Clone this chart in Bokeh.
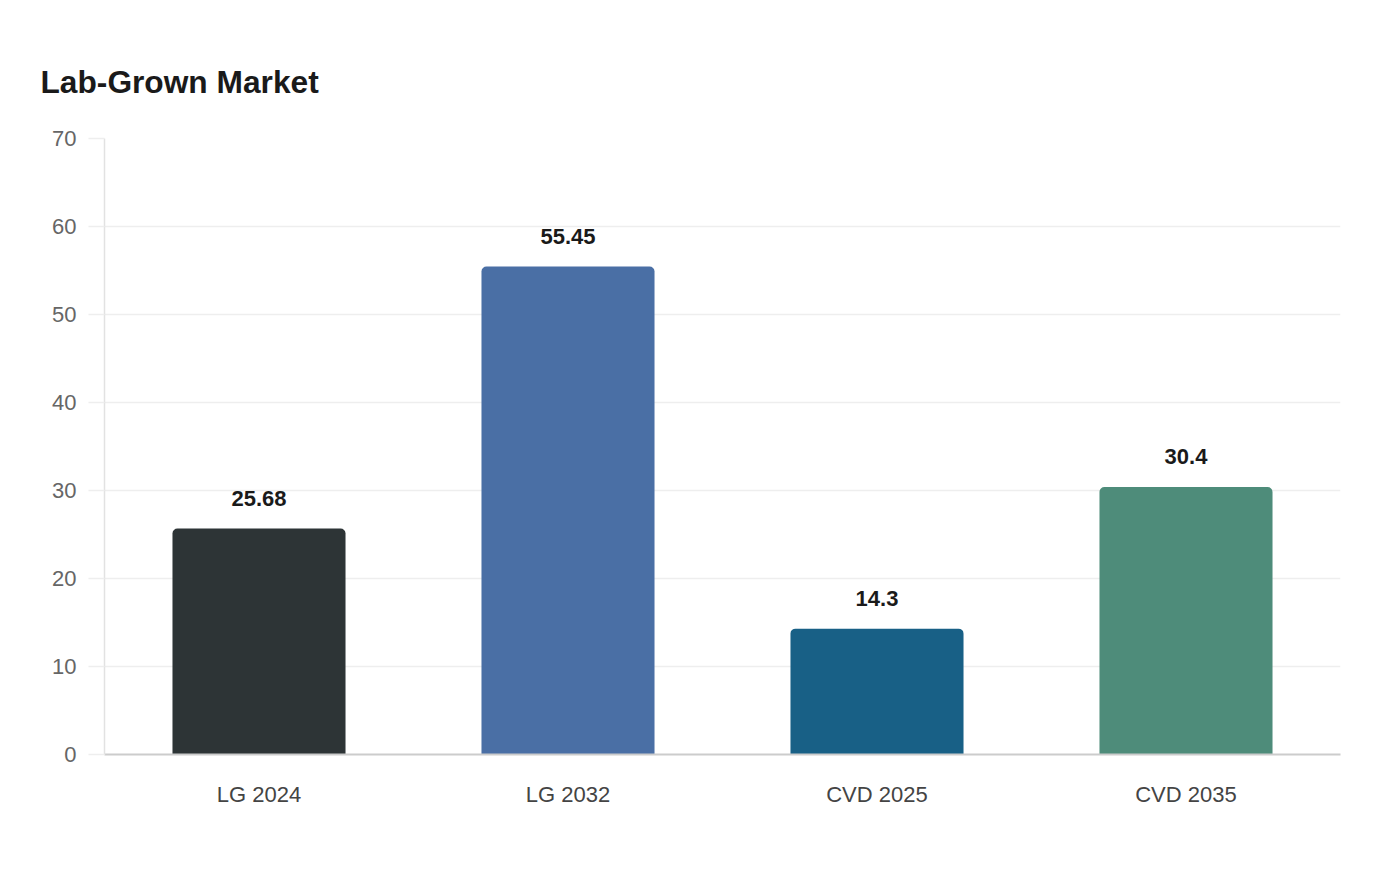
from bokeh.plotting import figure
from bokeh.models import ColumnDataSource, FactorRange, SingleIntervalTicker
from bokeh.core.properties import value
from bokeh.embed import file_html
from bokeh.resources import INLINE

categories = ['LG 2024', 'LG 2032', 'CVD 2025', 'CVD 2035']
values = [25.68, 55.45, 14.3, 30.4]
labels = ['25.68', '55.45', '14.3', '30.4']
colors = ['#2d3436', '#4a6fa5', '#186086', '#4e8c7a']

src = ColumnDataSource(dict(cat=categories, val=values, lab=labels, color=colors))

p = figure(width=1380, height=860, x_range=FactorRange(*categories, range_padding=0),
           y_range=(0, 70), output_backend="svg", toolbar_location=None,
           min_border_left=104, min_border_right=40, min_border_top=138, min_border_bottom=106)

p.title.text = 'Lab-Grown Market'
p.title.text_font = 'Liberation Sans'
p.title.text_font_size = '31.7px'
p.title.text_font_style = 'bold'
p.title.text_color = '#1a1a1a'
p.title.align = 'left'
p.title.offset = -64
p.title.standoff = 78

p.outline_line_color = None
p.xgrid.grid_line_color = None
p.ygrid.grid_line_color = '#eeeeee'
p.ygrid.grid_line_width = 1.5
p.yaxis.ticker = SingleIntervalTicker(interval=10)
p.yaxis.minor_tick_line_color = None
p.yaxis.major_tick_out = 16
p.yaxis.major_tick_in = 0
p.yaxis.major_tick_line_color = '#eeeeee'
p.yaxis.major_tick_line_width = 1.5
p.yaxis.axis_line_color = '#e2e2e2'
p.yaxis.axis_line_width = 1.5
p.yaxis.major_label_standoff = 12
p.yaxis.major_label_text_font = 'Liberation Sans'
p.yaxis.major_label_text_font_size = '22px'
p.yaxis.major_label_text_color = '#666666'

p.xaxis.axis_line_color = '#cccccc'
p.xaxis.axis_line_width = 2
p.xaxis.major_tick_line_color = None
p.xaxis.minor_tick_line_color = None
p.xaxis.major_label_standoff = 21
p.xaxis.major_label_text_font = 'Liberation Sans'
p.xaxis.major_label_text_font_size = '22px'
p.xaxis.major_label_text_color = '#444444'

p.vbar(x='cat', top='val', width=0.56, fill_color='color', line_color=None,
       border_radius=(5, 5, 0, 0), source=src)

p.text(x='cat', y='val', text='lab', text_align='center', text_baseline='middle',
       y_offset=-30, text_font=value('Liberation Sans'), text_font_size='22px',
       text_font_style='bold', text_color='#1a1a1a', source=src)

open("out.html", "w").write(file_html(p, INLINE))
